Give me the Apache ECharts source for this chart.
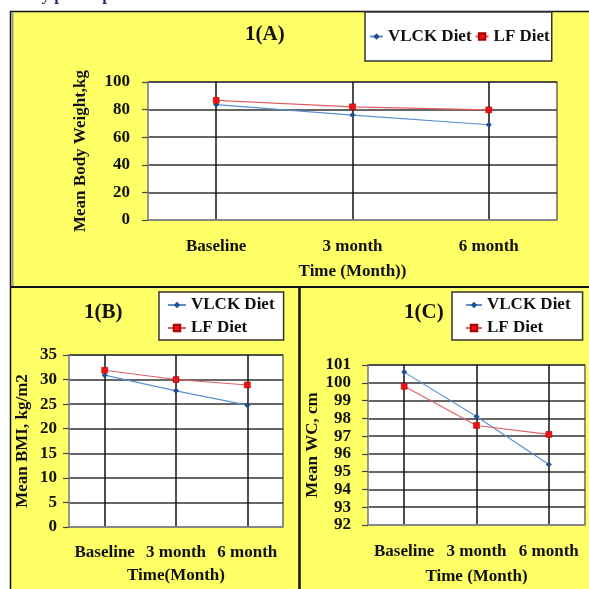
<!DOCTYPE html>
<html><head><meta charset="utf-8">
<script src="https://cdn.jsdelivr.net/npm/echarts@6/dist/echarts.min.js"></script>
<style>html,body{margin:0;padding:0;background:#fff}#c{width:589px;height:589px}</style>
</head><body><div id="c"></div>
<script>
// ---- data ----
const categories = ['Baseline', '3 month', '6 month'];
const seriesNames = ['VLCK Diet', 'LF Diet'];
const vlckWeight = [83.6, 76.0, 69.0];
const lfWeight = [86.7, 82.0, 79.8];
const vlckBMI = [30.9, 27.7, 24.8];
const lfBMI = [31.9, 30.0, 28.9];
const vlckWC = [100.6, 98.1, 95.4];
const lfWC = [99.8, 97.6, 97.1];
const panelTitles = ['1(A)', '1(B)', '1(C)'];
const yNames = ['Mean Body Weight,kg', 'Mean BMI, kg/m2', 'Mean WC, cm'];
const xNames = ['Time (Month))', 'Time(Month)', 'Time (Month)'];

const FONT = 'Liberation Serif, Times New Roman, serif';
const TXT = '#111';
const chart = echarts.init(document.getElementById('c'), null, {renderer: 'canvas'});

const grids = [
  {left: 148, top: 82, width: 409, height: 138},
  {left: 69, top: 355, width: 214, height: 172},
  {left: 368, top: 365, width: 217, height: 160}
];
const yCfg = [
  {min: 0, max: 100, interval: 20, labelMargin: 18, nameGap: 59},
  {min: 0, max: 35, interval: 5, labelMargin: 12, nameGap: 38},
  {min: 92, max: 101, interval: 1, labelMargin: 17, nameGap: 47}
];
const xCfg = [
  {labelMargin: 18, nameGap: 43},
  {labelMargin: 17, nameGap: 40},
  {labelMargin: 18, nameGap: 43}
];
const seriesData = [[vlckWeight, lfWeight], [vlckBMI, lfBMI], [vlckWC, lfWC]];

const txtStyle = {fontFamily: FONT, fontWeight: 'bold', fontSize: 17, color: TXT};

const option = {
  animation: false,
  backgroundColor: '#fff',
  graphic: [
    {type: 'rect', z: -10, shape: {x: 11, y: 12, width: 578, height: 275}, style: {fill: '#ffff66'}},
    {type: 'rect', z: -10, shape: {x: 11, y: 288, width: 288, height: 301}, style: {fill: '#ffff66'}},
    {type: 'rect', z: -10, shape: {x: 301, y: 288, width: 288, height: 301}, style: {fill: '#ffff66'}},
    {type: 'line', z: -5, shape: {x1: 10, y1: 11.5, x2: 589, y2: 11.5}, style: {stroke: '#111', lineWidth: 1.5}},
    {type: 'line', z: -5, shape: {x1: 10.5, y1: 11, x2: 10.5, y2: 589}, style: {stroke: '#111', lineWidth: 1.5}},
    {type: 'line', z: -5, shape: {x1: 12.5, y1: 12, x2: 12.5, y2: 286}, style: {stroke: '#9a9a9a', lineWidth: 2}},
    {type: 'line', z: -5, shape: {x1: 10, y1: 287, x2: 589, y2: 287}, style: {stroke: '#111', lineWidth: 2}},
    {type: 'line', z: -5, shape: {x1: 299.5, y1: 287, x2: 299.5, y2: 589}, style: {stroke: '#111', lineWidth: 2.5}},
    {type: 'text', z: -5, x: 14, y: -13, style: {text: 'body participants', font: 'bold 17px ' + FONT, fill: '#1f2a5a'}}
  ],
  title: [
    {text: panelTitles[0], left: 245, top: 24, padding: 0, textStyle: {fontFamily: FONT, fontWeight: 'bold', fontSize: 21, color: TXT}},
    {text: panelTitles[1], left: 84, top: 302, padding: 0, textStyle: {fontFamily: FONT, fontWeight: 'bold', fontSize: 21, color: TXT}},
    {text: panelTitles[2], left: 404, top: 302, padding: 0, textStyle: {fontFamily: FONT, fontWeight: 'bold', fontSize: 21, color: TXT}}
  ],
  legend: [
    {data: seriesNames, orient: 'horizontal', left: 365, top: 12, itemWidth: 13, itemHeight: 8, itemGap: 3,
     padding: [16, 2, 16, 4], backgroundColor: '#fff', borderColor: '#333', borderWidth: 1.5,
     textStyle: txtStyle},
    {data: seriesNames, orient: 'vertical', left: 159, top: 292, itemWidth: 18, itemHeight: 8, itemGap: 5,
     padding: [4, 9, 3, 8], backgroundColor: '#fff', borderColor: '#333', borderWidth: 1.5,
     textStyle: Object.assign({lineHeight: 18}, txtStyle)},
    {data: seriesNames, orient: 'vertical', left: 452, top: 292, itemWidth: 16, itemHeight: 8, itemGap: 5,
     padding: [4, 12, 3, 13], backgroundColor: '#fff', borderColor: '#333', borderWidth: 1.5,
     textStyle: Object.assign({lineHeight: 18}, txtStyle)}
  ],
  grid: grids.map(g => Object.assign({show: true, backgroundColor: '#fff', borderColor: '#444', borderWidth: 1.2, containLabel: false}, g)),
  xAxis: grids.map((g, i) => ({
    type: 'category', gridIndex: i, data: categories, boundaryGap: true,
    axisLine: {lineStyle: {color: '#9a9a9a', width: 1.5}},
    axisTick: {show: false},
    axisLabel: Object.assign({margin: xCfg[i].labelMargin, interval: 0}, txtStyle),
    splitLine: {show: true, alignWithLabel: true, lineStyle: {color: '#111', width: 1.5}},
    name: xNames[i], nameLocation: 'middle', nameGap: xCfg[i].nameGap,
    nameTextStyle: txtStyle
  })),
  yAxis: grids.map((g, i) => ({
    type: 'value', gridIndex: i, min: yCfg[i].min, max: yCfg[i].max, interval: yCfg[i].interval,
    axisLine: {show: true, lineStyle: {color: '#9a9a9a', width: 1.5}},
    axisTick: {show: true, length: 6, lineStyle: {color: '#444', width: 1.2}},
    axisLabel: Object.assign({margin: yCfg[i].labelMargin}, txtStyle),
    splitLine: {show: true, lineStyle: {color: '#333', width: 1.5}},
    name: yNames[i], nameLocation: 'middle', nameGap: yCfg[i].nameGap,
    nameTextStyle: txtStyle
  })),
  series: []
};

seriesData.forEach((pair, i) => {
  option.series.push({
    name: seriesNames[0], type: 'line', xAxisIndex: i, yAxisIndex: i, data: pair[0],
    symbol: 'diamond', symbolSize: 6,
    lineStyle: {color: '#5b8fd0', width: 1.1},
    itemStyle: {color: '#1f4e8c'}
  });
  option.series.push({
    name: seriesNames[1], type: 'line', xAxisIndex: i, yAxisIndex: i, data: pair[1],
    symbol: 'rect', symbolSize: 6,
    lineStyle: {color: '#e06060', width: 1.1},
    itemStyle: {color: '#ee1111', borderColor: '#a00', borderWidth: 0.5}
  });
});

chart.setOption(option);
</script>
</body></html>
